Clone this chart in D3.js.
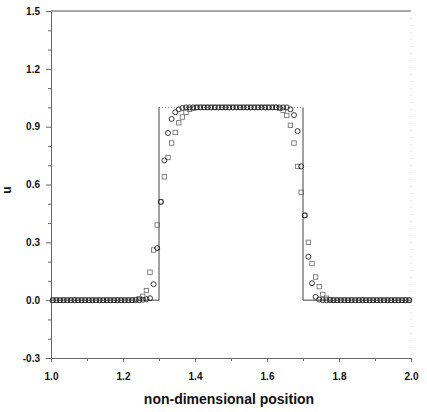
<!DOCTYPE html>
<html lang="en">
<head>
  <meta charset="UTF-8">
  <title>u vs non-dimensional position</title>
  <script src="https://d3js.org/d3.v7.min.js"></script>
  <style>
    body { margin: 0; background: #fff; }
    svg { font-family: "Liberation Sans", Arial, sans-serif; }
    .axis text { font-size: 10px; font-weight: bold; fill: #111; }
    .axis path, .axis line { stroke: #666; }
  </style>
</head>
<body>
  <script>
    // cell centres
    const xs = [
      1.005, 1.015, 1.025, 1.035, 1.045, 1.055, 1.065, 1.075, 1.085, 1.095,
      1.105, 1.115, 1.125, 1.135, 1.145, 1.155, 1.165, 1.175, 1.185, 1.195,
      1.205, 1.215, 1.225, 1.235, 1.245, 1.255, 1.265, 1.275, 1.285, 1.295,
      1.305, 1.315, 1.325, 1.335, 1.345, 1.355, 1.365, 1.375, 1.385, 1.395,
      1.405, 1.415, 1.425, 1.435, 1.445, 1.455, 1.465, 1.475, 1.485, 1.495,
      1.505, 1.515, 1.525, 1.535, 1.545, 1.555, 1.565, 1.575, 1.585, 1.595,
      1.605, 1.615, 1.625, 1.635, 1.645, 1.655, 1.665, 1.675, 1.685, 1.695,
      1.705, 1.715, 1.725, 1.735, 1.745, 1.755, 1.765, 1.775, 1.785, 1.795,
      1.805, 1.815, 1.825, 1.835, 1.845, 1.855, 1.865, 1.875, 1.885, 1.895,
      1.905, 1.915, 1.925, 1.935, 1.945, 1.955, 1.965, 1.975, 1.985, 1.995
    ];

    // circle symbols
    const uCircle = [
      0, 0, 0, 0, 0, 0, 0, 0, 0, 0,
      0, 0, 0, 0, 0, 0, 0, 0, 0, 0,
      0, 0, 0, 0, 0, 0.002, 0.005, 0.01, 0.083, 0.27,
      0.51, 0.725, 0.867, 0.94, 0.975, 0.99, 0.997, 1, 1, 1,
      1, 1, 1, 1, 1, 1, 1, 1, 1, 1,
      1, 1, 1, 1, 1, 1, 1, 1, 1, 1,
      1, 1, 1, 1, 1, 1, 0.99, 0.96, 0.877, 0.694,
      0.44, 0.225, 0.088, 0.017, 0.003, 0, 0, 0, 0, 0,
      0, 0, 0, 0, 0, 0, 0, 0, 0, 0,
      0, 0, 0, 0, 0, 0, 0, 0, 0, 0
    ];

    // square symbols
    const uSquare = [
      0, 0, 0, 0, 0, 0, 0, 0, 0, 0,
      0, 0, 0, 0, 0, 0, 0, 0, 0, 0,
      0, 0, 0, 0.003, 0.008, 0.02, 0.05, 0.145, 0.26, 0.39,
      0.51, 0.64, 0.74, 0.815, 0.87, 0.92, 0.95, 0.975, 0.99, 0.995,
      1, 1, 1, 1, 1, 1, 1, 1, 1, 1,
      1, 1, 1, 1, 1, 1, 1, 1, 1, 1,
      1, 1, 1, 0.995, 0.985, 0.958, 0.907, 0.815, 0.694, 0.56,
      0.44, 0.30, 0.19, 0.12, 0.07, 0.03, 0.01, 0.003, 0, 0,
      0, 0, 0, 0, 0, 0, 0, 0, 0, 0,
      0, 0, 0, 0, 0, 0, 0, 0, 0, 0
    ];

    // exact solution (square pulse)
    const exactX = [1.0, 1.3, 1.3, 1.7, 1.7, 2.0];
    const exactU = [0, 0, 1, 1, 0, 0];

    const xTicks = [1.0, 1.2, 1.4, 1.6, 1.8, 2.0];
    const xTickLabels = ["1.0", "1.2", "1.4", "1.6", "1.8", "2.0"];
    const yTicks = [-0.3, 0.0, 0.3, 0.6, 0.9, 1.2, 1.5];
    const yTickLabels = ["-0.3", "0.0", "0.3", "0.6", "0.9", "1.2", "1.5"];
    const xMinor = [1.1, 1.3, 1.5, 1.7, 1.9];
    const yMinor = [-0.2, -0.1, 0.1, 0.2, 0.4, 0.5, 0.7, 0.8, 1.0, 1.1, 1.3, 1.4];

    const width = 427, height = 412;
    const padL = 51, padR = 411, padT = 11, padB = 358;

    const svg = d3.select("body").append("svg")
      .attr("width", width)
      .attr("height", height);

    const x = d3.scaleLinear().domain([1.0, 2.0]).range([padL, padR]);
    const y = d3.scaleLinear().domain([-0.3, 1.5]).range([padB, padT]);

    // frame: top and right edges
    svg.append("line")
      .attr("x1", padL).attr("x2", padR).attr("y1", padT).attr("y2", padT)
      .attr("stroke", "#555").attr("stroke-width", 1);
    svg.append("line")
      .attr("x1", padR).attr("x2", padR).attr("y1", padT).attr("y2", padB)
      .attr("stroke", "#ccc").attr("stroke-width", 1)
      .attr("stroke-dasharray", "1,6");

    // minor ticks
    svg.append("g")
      .attr("class", "axis")
      .attr("transform", `translate(${padL},0)`)
      .call(d3.axisLeft(y).tickValues(yMinor).tickSize(3).tickFormat(""))
      .call(g => g.select(".domain").remove());
    svg.append("g")
      .attr("class", "axis")
      .attr("transform", `translate(0,${padB})`)
      .call(d3.axisBottom(x).tickValues(xMinor).tickSize(3).tickFormat(""))
      .call(g => g.select(".domain").remove());

    // main axes
    svg.append("g")
      .attr("class", "axis")
      .attr("transform", `translate(${padL},0)`)
      .call(d3.axisLeft(y).tickValues(yTicks).tickSize(5).tickSizeOuter(0)
        .tickPadding(6)
        .tickFormat((d, i) => yTickLabels[i]));

    svg.append("g")
      .attr("class", "axis")
      .attr("transform", `translate(0,${padB})`)
      .call(d3.axisBottom(x).tickValues(xTicks).tickSize(4).tickSizeOuter(0)
        .tickPadding(11)
        .tickFormat((d, i) => xTickLabels[i]));

    // exact solution: solid sides, dotted top
    const exact = exactX.map((v, i) => [v, exactU[i]]);
    const line = d3.line().x(d => x(d[0])).y(d => y(d[1]));
    svg.append("path")
      .datum(exact.slice(0, 3))
      .attr("fill", "none").attr("stroke", "#444").attr("stroke-width", 1)
      .attr("d", line);
    svg.append("path")
      .datum(exact.slice(3))
      .attr("fill", "none").attr("stroke", "#444").attr("stroke-width", 1)
      .attr("d", line);
    svg.append("path")
      .datum(exact.slice(2, 4))
      .attr("fill", "none").attr("stroke", "#777").attr("stroke-width", 1)
      .attr("stroke-dasharray", "1,2")
      .attr("d", line);

    // squares
    const sq = 4.4;
    svg.append("g").selectAll("rect")
      .data(xs.map((v, i) => [v, uSquare[i]]))
      .enter().append("rect")
      .attr("x", d => x(d[0]) - sq / 2)
      .attr("y", d => y(d[1]) - sq / 2)
      .attr("width", sq)
      .attr("height", sq)
      .attr("fill", "none")
      .attr("stroke", "#666")
      .attr("stroke-width", 0.8);

    // circles
    svg.append("g").selectAll("circle")
      .data(xs.map((v, i) => [v, uCircle[i]]))
      .enter().append("circle")
      .attr("cx", d => x(d[0]))
      .attr("cy", d => y(d[1]))
      .attr("r", 2.5)
      .attr("fill", "none")
      .attr("stroke", "#222")
      .attr("stroke-width", 0.9);

    // axis titles
    svg.append("text")
      .attr("x", (padL + padR) / 2 - 2)
      .attr("y", 404)
      .attr("text-anchor", "middle")
      .attr("font-size", 14)
      .attr("font-weight", "bold")
      .attr("fill", "#111")
      .text("non-dimensional position");

    svg.append("text")
      .attr("transform", "translate(11,190) rotate(-90)")
      .attr("text-anchor", "middle")
      .attr("font-size", 12)
      .attr("font-weight", "bold")
      .attr("fill", "#111")
      .text("u");
  </script>
</body>
</html>
